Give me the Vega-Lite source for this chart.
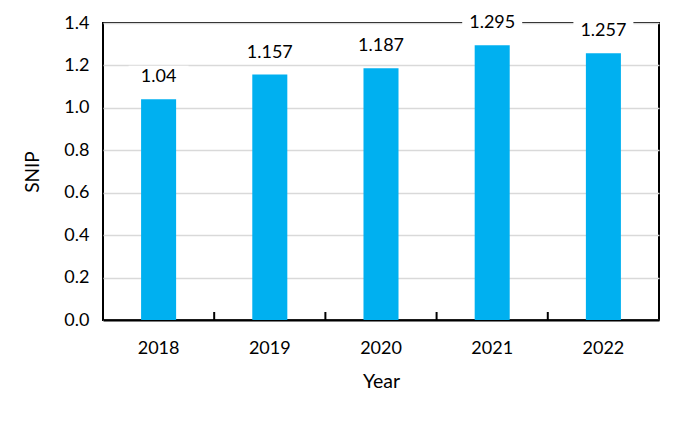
{
  "$schema": "https://vega.github.io/schema/vega-lite/v6.json",
  "width": 556,
  "height": 297,
  "autosize": {"type": "none"},
  "padding": {"left": 103, "top": 23, "right": 22, "bottom": 101},
  "background": "white",
  "config": {
    "font": "Lato",
    "view": {"stroke": "black", "strokeWidth": 2}
  },
  "data": {"values": [
    {"Year": "2018", "SNIP": 1.04, "label": "1.04"},
    {"Year": "2019", "SNIP": 1.157, "label": "1.157"},
    {"Year": "2020", "SNIP": 1.187, "label": "1.187"},
    {"Year": "2021", "SNIP": 1.295, "label": "1.295"},
    {"Year": "2022", "SNIP": 1.257, "label": "1.257"}
  ]},
  "encoding": {
    "x": {"field": "Year", "type": "nominal", "scale": {"paddingInner": 0.685, "paddingOuter": 0.3425},
      "axis": {"labelAngle": 0, "title": "Year", "domain": true, "domainColor": "black", "domainWidth": 2, "ticks": false, "labelPadding": 19, "titlePadding": 15, "grid": false,
        "labelFont": "Lato", "titleFont": "Lato", "labelFontSize": 18, "titleFontSize": 19.5, "labelColor": "black", "titleColor": "black", "titleFontWeight": "normal"}},
    "y": {"field": "SNIP", "type": "quantitative", "scale": {"domain": [0, 1.4], "nice": false},
      "axis": {"values": [0, 0.2, 0.4, 0.6, 0.8, 1.0, 1.2, 1.4], "format": ".1f", "title": "SNIP", "domain": false, "ticks": false, "labelPadding": 14, "titlePadding": 21, "grid": true, "gridColor": "#d9d9d9", "gridWidth": 1.5,
        "labelFont": "Lato", "titleFont": "Lato", "labelFontSize": 18, "titleFontSize": 19, "labelColor": "black", "titleColor": "black", "titleFontWeight": "normal"}}
  },
  "layer": [
    {"mark": {"type": "bar", "color": "#00B0F0"}},
    {"mark": {"type": "rule", "color": "black", "strokeWidth": 2, "xOffset": -38.1, "y2Offset": -8},
      "encoding": {"x": {"field": "Year", "type": "nominal", "bandPosition": 0}, "y": {"datum": 0}, "y2": {"datum": 0}}},
    {"mark": {"type": "point", "shape": "M-1,-0.35H1V0.35H-1Z", "size": 3600, "filled": true, "color": "white", "opacity": 1, "yOffset": -23}},
    {"mark": {"type": "text", "fontSize": 18, "font": "Lato", "color": "black", "baseline": "alphabetic", "dy": -17}, "encoding": {"text": {"field": "label"}}}
  ]
}
